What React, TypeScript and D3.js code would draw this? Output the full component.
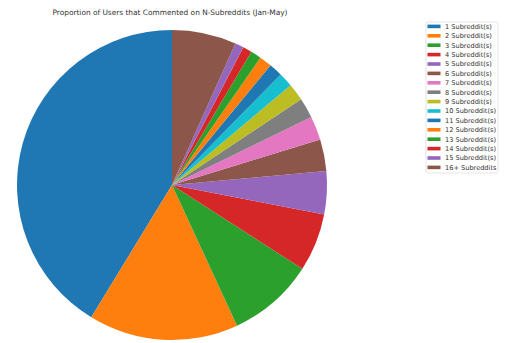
import React from "react";
import * as d3 from "d3";

const categories = [
  "1 Subreddit(s)", "2 Subreddit(s)", "3 Subreddit(s)", "4 Subreddit(s)",
  "5 Subreddit(s)", "6 Subreddit(s)", "7 Subreddit(s)", "8 Subreddit(s)",
  "9 Subreddit(s)", "10 Subreddit(s)", "11 Subreddit(s)", "12 Subreddit(s)",
  "13 Subreddit(s)", "14 Subreddit(s)", "15 Subreddit(s)", "16+ Subreddits",
];
const shares = [41.25, 15.6, 9.0, 6.05, 4.47, 3.3, 2.5, 2.1, 1.8, 1.5, 1.4, 1.3, 1.1, 0.95, 0.9, 6.7];
const palette = [
  "#1f77b4", "#ff7f0e", "#2ca02c", "#d62728", "#9467bd", "#8c564b", "#e377c2",
  "#7f7f7f", "#bcbd22", "#17becf",
];
const title = "Proportion of Users that Commented on N-Subreddits (Jan-May)";

export default function App() {
  const W = 505, H = 343;
  const cx = 172, cy = 185, r = 155;
  const pie = d3.pie<number>().sort(null).value((d) => d).startAngle(0).endAngle(-2 * Math.PI);
  const arcs = pie(shares);
  const arc = d3.arc<d3.PieArcDatum<number>>().innerRadius(0).outerRadius(r);
  const color = (i: number) => palette[i % palette.length];

  const lx = 426, ly = 22, rowH = 9.4;
  return (
    <svg width={W} height={H} style={{ position: "absolute", left: 0, top: 0, background: "#fff" }}
      fontFamily="DejaVu Sans, sans-serif">
      <text x={170} y={14.8} fontSize={7.4} textAnchor="middle" fill="#333">{title}</text>
      <g transform={`translate(${cx},${cy})`}>
        {arcs.map((a, i) => (
          <path key={i} d={arc(a) || ""} fill={color(i)} />
        ))}
      </g>
      <rect x={lx} y={ly} width={72} height={151} rx={2} fill="#fff" fillOpacity={0.8} stroke="#ddd" strokeWidth={0.8} />
      {categories.map((c, i) => (
        <g key={c} transform={`translate(0,${ly + 4.3 + i * rowH})`}>
          <rect x={427.5} y={-1.7} width={13} height={3.6} fill={color(i)} />
          <text x={445} y={2.5} fontSize={6.6} fill="#333">{c}</text>
        </g>
      ))}
    </svg>
  );
}
